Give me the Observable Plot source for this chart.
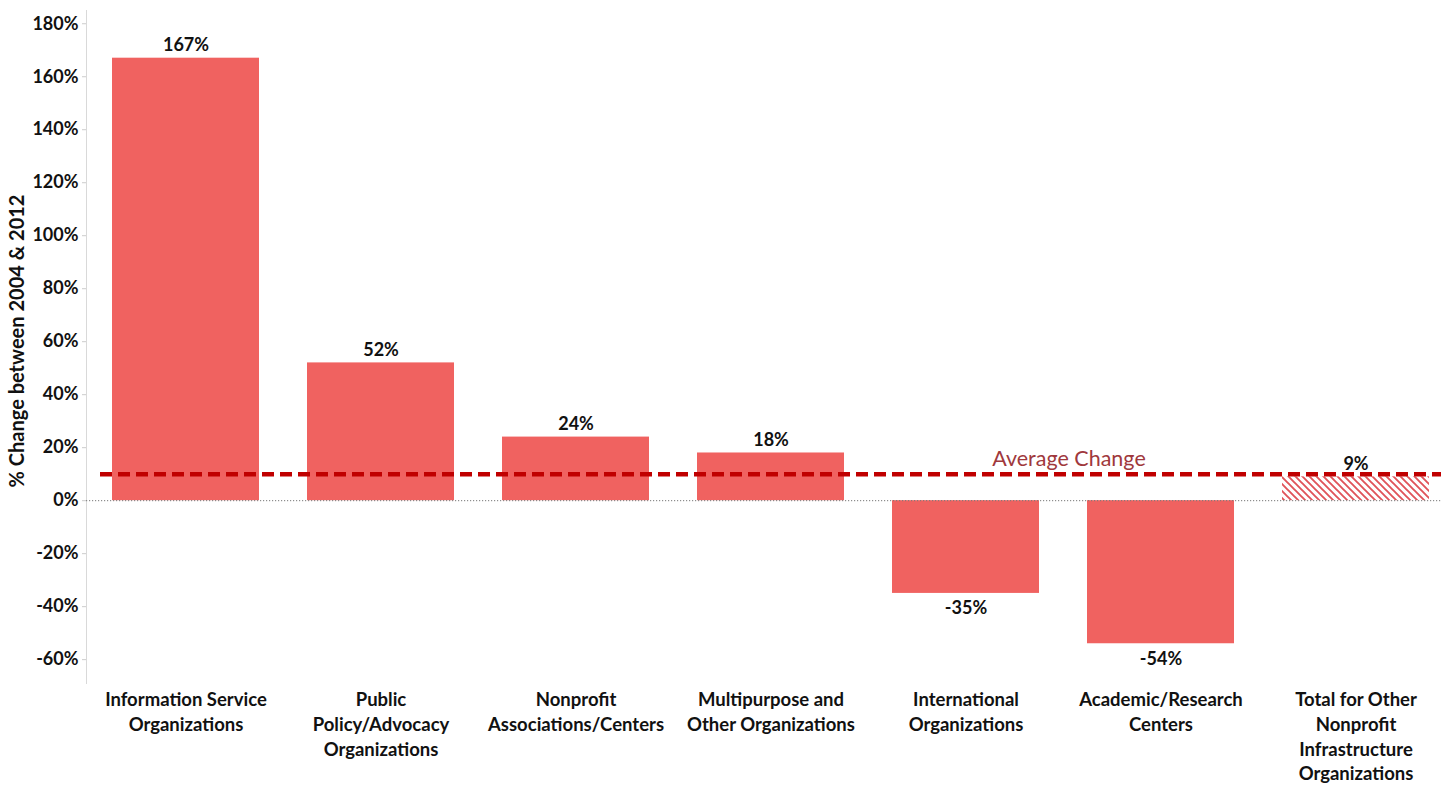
<!DOCTYPE html>
<html><head><meta charset="utf-8">
<script src="https://cdn.jsdelivr.net/npm/d3@7"></script>
<script src="https://cdn.jsdelivr.net/npm/@observablehq/plot@0.6"></script>
<style>
body{margin:0;background:#fff;font-family:Lato,"Open Sans",sans-serif;}
#chart svg{display:block;}
</style>
</head><body><div id="chart"></div>
<script>
const categories = [
  "Information Service Organizations",
  "Public Policy/Advocacy Organizations",
  "Nonprofit Associations/Centers",
  "Multipurpose and Other Organizations",
  "International Organizations",
  "Academic/Research Centers",
  "Total for Other Nonprofit Infrastructure Organizations"
];
const tickLabels = [
  "Information Service\nOrganizations",
  "Public\nPolicy/Advocacy\nOrganizations",
  "Nonprofit\nAssociations/Centers",
  "Multipurpose and\nOther Organizations",
  "International\nOrganizations",
  "Academic/Research\nCenters",
  "Total for Other\nNonprofit\nInfrastructure\nOrganizations"
];
const values = [167, 52, 24, 18, -35, -54, 9];
const isTotal = [false, false, false, false, false, false, true];
const averageChange = 10;
const yTicks = [-60, -40, -20, 0, 20, 40, 60, 80, 100, 120, 140, 160, 180];

const data = categories.map((c, i) => ({cat: c, label: tickLabels[i], value: values[i], total: isTotal[i]}));

const barColor = "#f06260";

function hatchDefs() {
  const ns = "http://www.w3.org/2000/svg";
  const defs = document.createElementNS(ns, "defs");
  const p = document.createElementNS(ns, "pattern");
  p.setAttribute("id", "hatch");
  p.setAttribute("patternUnits", "userSpaceOnUse");
  p.setAttribute("width", "7");
  p.setAttribute("height", "7");
  const path = document.createElementNS(ns, "path");
  path.setAttribute("d", "M-2,-2 L9,9 M-2,5 L2,9 M5,-2 L9,2");
  path.setAttribute("stroke", "#e0545a");
  path.setAttribute("stroke-width", "1.9");
  p.appendChild(path);
  defs.appendChild(p);
  return defs;
}

const chart = Plot.plot({
  width: 1447,
  height: 788,
  marginLeft: 86,
  marginRight: 0,
  marginTop: 10,
  marginBottom: 105,
  style: {fontFamily: "Lato, 'Open Sans', sans-serif", background: "#fff", color: "#111"},
  x: {domain: categories, range: [86, 1456], paddingInner: 0.244, paddingOuter: 0.122, axis: null},
  y: {domain: [-69, 185], ticks: yTicks, tickFormat: d => d + "%", label: null},
  marks: [
    hatchDefs,
    Plot.frame({anchor: "left", stroke: "#d9d9d9"}),
    Plot.axisY({ticks: yTicks, tickFormat: d => d + "%", tickSize: 4, tickPadding: 4, stroke: "#ccc", fontSize: 18, fontWeight: "bold", fill: "#111", label: null}),
    Plot.barY(data.filter(d => !d.total), {x: "cat", y: "value", fill: barColor}),
    Plot.barY(data.filter(d => d.total), {x: "cat", y: "value", fill: "url(#hatch)"}),
    Plot.ruleY([0], {stroke: "#777", strokeDasharray: "1.2,1.8", strokeWidth: 1, insetRight: 6}),
    Plot.ruleY([averageChange], {stroke: "#c00000", strokeWidth: 4.5, strokeDasharray: "12,6", insetLeft: 14, insetRight: 6}),
    Plot.text([averageChange], {x: () => categories[4], y: d => d, text: () => "Average Change", dx: 103, dy: -15, fill: "#a0383c", fontSize: 21.5}),
    Plot.text(data.filter(d => d.value >= 0), {x: "cat", y: "value", text: d => d.value + "%", dy: -13, fontSize: 18, fontWeight: "bold", fill: "#111"}),
    Plot.text(data.filter(d => d.value < 0), {x: "cat", y: "value", text: d => d.value + "%", dy: 15, fontSize: 18, fontWeight: "bold", fill: "#111"}),
    Plot.text(data, {x: "cat", text: "label", frameAnchor: "bottom", lineAnchor: "top", dy: 5, lineHeight: 1.34, fontSize: 18.5, fontWeight: "bold", fill: "#111"}),
    Plot.text(["% Change between 2004 & 2012"], {frameAnchor: "left", textAnchor: "middle", text: d => d, rotate: -90, dx: -69, dy: -6, fontSize: 20, fontWeight: "bold", fill: "#111"})
  ]
});
document.getElementById("chart").appendChild(chart);
</script>
</body></html>
